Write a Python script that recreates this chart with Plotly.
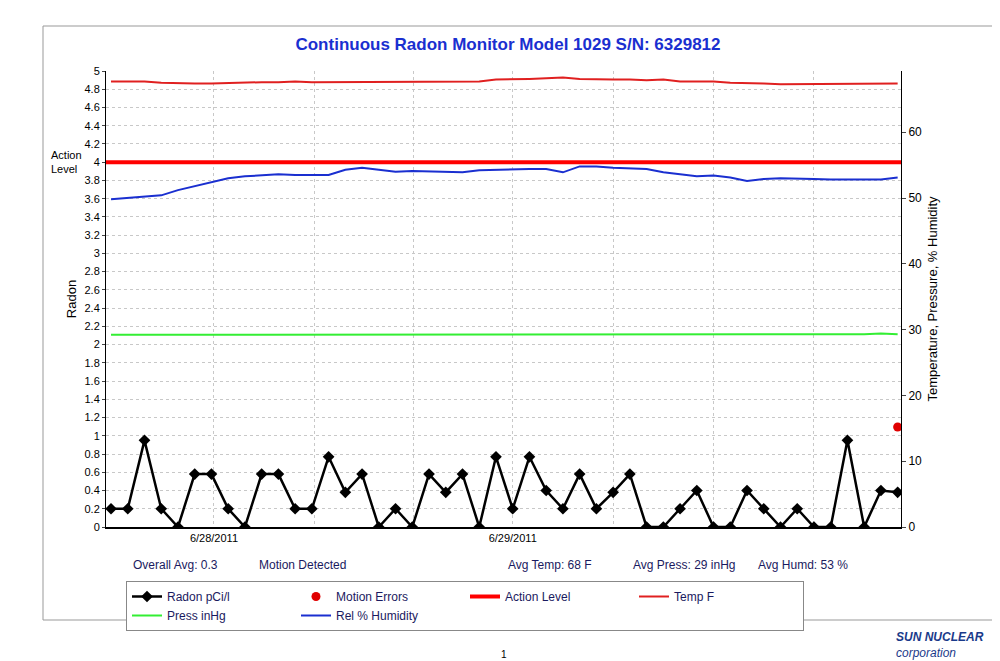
import plotly.graph_objects as go

radon = [0.2, 0.2, 0.95, 0.2, 0, 0.58, 0.58, 0.2, 0, 0.58, 0.58, 0.2, 0.2, 0.77, 0.38, 0.58,
         0, 0.2, 0, 0.58, 0.38, 0.58, 0, 0.77, 0.2, 0.77, 0.4, 0.2, 0.58, 0.2, 0.38, 0.58,
         0, 0, 0.2, 0.4, 0, 0, 0.4, 0.2, 0, 0.2, 0, 0, 0.95, 0, 0.4, 0.38]
humidity = [49.8, 50.0, 50.2, 50.4, 51.2, 51.8, 52.5, 53.0, 53.3, 53.5, 53.6, 53.5, 53.5, 53.5, 54.3, 54.6,
            54.3, 54.0, 54.1, 54.0, 53.9, 53.9, 54.2, 54.3, 54.4, 54.4, 54.4, 53.9, 54.8, 54.8, 54.6, 54.5,
            54.4, 53.9, 53.6, 53.3, 53.4, 53.1, 52.6, 52.9, 53.0, 53.0, 52.9, 52.8, 52.8, 52.8, 52.8, 53.1]
temp = [67.7, 67.7, 67.7, 67.5, 67.4, 67.4, 67.4, 67.5, 67.5, 67.6, 67.6, 67.7, 67.6, 67.6, 67.6, 67.7,
        67.7, 67.7, 67.7, 67.7, 67.7, 67.7, 67.7, 68.0, 68.0, 68.1, 68.2, 68.3, 68.1, 68.0, 68.0, 68.0,
        67.9, 68.0, 67.7, 67.7, 67.7, 67.5, 67.5, 67.4, 67.3, 67.3, 67.3, 67.4, 67.4, 67.3, 67.4, 67.4]
press = [29.2] * 24 + [29.3, 29.2, 29.2, 29.3, 29.3, 29.2, 29.2, 29.3, 29.3, 29.3, 29.3, 29.3,
                       29.3, 29.3, 29.3, 29.3, 29.3, 29.3, 29.3, 29.3, 29.3, 29.3, 29.4, 29.3]
motion_idx = [47]
motion_val = [15.2]
action_level = 4
x = list(range(len(radon)))

# plot area in pixels: x 98..893, y 63..519
def px(v):
    return (v - 98) / 795

def py(v):
    return (519 - v) / 456

fig = go.Figure()
fig.add_trace(go.Scatter(x=x, y=radon, name="Radon pCi/l", mode="lines+markers",
                         line=dict(color="black", width=2.5),
                         marker=dict(symbol="diamond", size=9, color="black")))
fig.add_trace(go.Scatter(x=motion_idx, y=motion_val, name="Motion Errors", mode="markers",
                         marker=dict(color="#e00000", size=9), yaxis="y2"))
fig.add_trace(go.Scatter(x=[-0.3, 47.2], y=[action_level] * 2, name="Action Level", mode="lines",
                         line=dict(color="#ff0000", width=4)))
fig.add_trace(go.Scatter(x=x, y=temp, name="Temp F", mode="lines",
                         line=dict(color="#e02020", width=2), yaxis="y2"))
fig.add_trace(go.Scatter(x=x, y=press, name="Press inHg", mode="lines",
                         line=dict(color="#33ee33", width=2), yaxis="y2"))
fig.add_trace(go.Scatter(x=x, y=humidity, name="Rel % Humidity", mode="lines",
                         line=dict(color="#1a2fd0", width=2), yaxis="y2"))

grid = dict(showgrid=True, gridcolor="#c8c8c8", griddash="dot", gridwidth=1)
fig.update_layout(
    width=1000, height=661, plot_bgcolor="white", paper_bgcolor="white",
    font=dict(family="Liberation Sans, Arial", size=11, color="black"),
    margin=dict(l=98, r=107, t=63, b=142),
    title=dict(text="<b>Continuous Radon Monitor Model 1029 S/N: 6329812</b>",
               x=0.5, xanchor="center", y=0.955, font=dict(size=17, color="#1a2fd0")),
    xaxis=dict(range=[-0.3, 47.2], tickvals=[6.15, 12.13, 18.1, 24.0, 30.0, 36.0, 42.0],
               ticktext=["6/28/2011", "", "", "6/29/2011", "", "", ""], ticks="",
               showline=True, linecolor="black", linewidth=2, zeroline=False, **grid),
    yaxis=dict(range=[0, 5], dtick=0.2, title=dict(text="Radon", standoff=4), showline=True,
               linecolor="black", ticks="outside", ticklen=3, zeroline=False, **grid),
    yaxis2=dict(range=[0, 69.3], dtick=10, overlaying="y", side="right", showgrid=False,
                showline=True, linecolor="black", ticks="outside", ticklen=4, zeroline=False,
                title=dict(text="Temperature, Pressure, % Humidity", standoff=6), tickfont=dict(size=12)),
    legend=dict(orientation="h", x=px(118), xanchor="left", y=py(573), yanchor="top",
                bordercolor="#888", borderwidth=1, font=dict(size=12, color="#1a1a60"),
                entrywidth=124, itemwidth=30, tracegroupgap=0),
    showlegend=True,
)
fig.add_annotation(text="Action<br>Level", x=0, xref="paper", xanchor="right", xshift=-22,
                   y=action_level, yref="y", showarrow=False, align="left", font=dict(size=11))
stats = [("Overall Avg: 0.3", 123), ("Motion Detected", 249), ("Avg Temp: 68 F", 498),
         ("Avg Press: 29 inHg", 623), ("Avg Humd: 53 %", 748)]
for t, sx in stats:
    fig.add_annotation(text=t, x=px(sx), xref="paper", y=py(566), yref="paper",
                       xanchor="left", showarrow=False, font=dict(size=12, color="#1a1a60"))
fig.add_shape(type="rect", xref="paper", yref="paper", x0=px(35), x1=px(990),
              y0=py(612), y1=py(18), line=dict(color="#999", width=1))
fig.add_annotation(text="<b><i>SUN NUCLEAR</i></b><br><i>corporation</i>", x=px(978), xref="paper",
                   y=py(637), yref="paper", xanchor="right", yanchor="middle", showarrow=False,
                   align="left", font=dict(size=12, color="#1a3a8a"))
fig.add_annotation(text="1", x=0.5, xref="paper", y=py(654), yref="paper", showarrow=False,
                   font=dict(size=10))
fig.write_html("out.html")
